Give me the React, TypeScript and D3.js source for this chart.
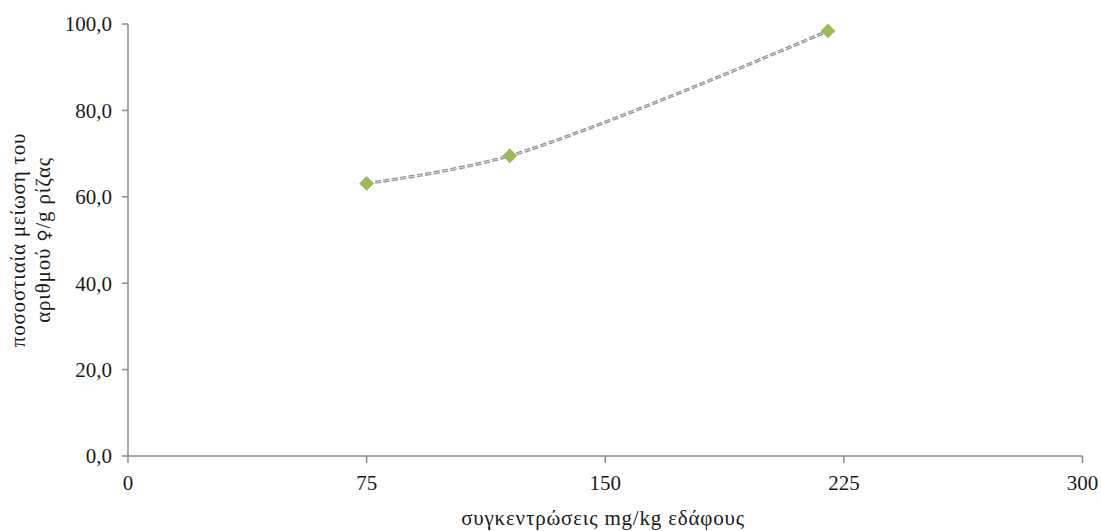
import React from "react";
import * as d3 from "d3";

const concentrations = [75, 120, 220];
const reductions = [63.1, 69.5, 98.4];
const xTicks = [0, 75, 150, 225, 300];
const yTicks = [0, 20, 40, 60, 80, 100];
const xTitle = "συγκεντρώσεις mg/kg εδάφους";
const yTitleLine1 = "ποσοστιαία μείωση του";
const yTitleLine2 = ["αριθμού ", "♀", "/g ρίζας"];

const W = 1101;
const H = 531;

export default function App() {
  const x = d3.scaleLinear().domain([0, 300]).range([128, 1082.5]);
  const y = d3.scaleLinear().domain([0, 100]).range([456, 24]);
  const pts = concentrations.map((c, i) => [x(c), y(reductions[i])] as [number, number]);
  const line = d3.line().curve(d3.curveCatmullRom.alpha(0.5));
  const fmt = (v: number) => v.toFixed(1).replace(".", ",");
  const axisColor = "#8c8c8c";
  const font = "'Liberation Serif', 'Times New Roman', serif";
  const diamond = d3.symbol().type(d3.symbolDiamond2).size(140);
  const fs = 21;
  const ls = 0.8;

  return (
    <svg width={W} height={H} style={{ position: "absolute", left: 0, top: 0, background: "#fff" }}>
      {/* y axis */}
      <line x1={x(0)} x2={x(0)} y1={y(0)} y2={y(100)} stroke={axisColor} strokeWidth={1.5} />
      {yTicks.map((t) => (
        <g key={"y" + t}>
          <line x1={x(0) - 6} x2={x(0)} y1={y(t)} y2={y(t)} stroke={axisColor} strokeWidth={1.5} />
          <text x={x(0) - 16} y={y(t)} dy="0.35em" textAnchor="end" fontFamily={font} fontSize={fs} fill="#1a1a1a">
            {fmt(t)}
          </text>
        </g>
      ))}
      {/* x axis */}
      <line x1={x(0)} x2={x(300)} y1={y(0)} y2={y(0)} stroke={axisColor} strokeWidth={1.5} />
      {xTicks.map((t) => (
        <g key={"x" + t}>
          <line x1={x(t)} x2={x(t)} y1={y(0)} y2={y(0) + 7} stroke={axisColor} strokeWidth={1.5} />
          <text x={x(t)} y={y(0) + 34} textAnchor="middle" fontFamily={font} fontSize={fs} fill="#1a1a1a">
            {t}
          </text>
        </g>
      ))}
      {/* titles */}
      <text x={603} y={525} textAnchor="middle" fontFamily={font} fontSize={fs} letterSpacing={ls} fill="#1a1a1a">
        {xTitle}
      </text>
      <text transform={`translate(25,240) rotate(-90)`} textAnchor="middle" fontFamily={font} fontSize={fs} letterSpacing={ls} fill="#1a1a1a">
        <tspan x={0} dy={0}>{yTitleLine1}</tspan>
        <tspan x={0} dy={25}>
          {yTitleLine2[0]}
          <tspan fontFamily="'DejaVu Sans', sans-serif" fontSize={17}>{yTitleLine2[1]}</tspan>
          {yTitleLine2[2]}
        </tspan>
      </text>
      {/* line */}
      <path d={line(pts) || ""} fill="none" stroke="#8f8f8f" strokeWidth={3.2} strokeDasharray="6,2.5" />
      <path d={line(pts) || ""} fill="none" stroke="#dcdcdc" strokeWidth={1} strokeDasharray="6,2.5" />
      {pts.map((p, i) => (
        <path key={i} d={diamond() || ""} transform={`translate(${p[0]},${p[1]})`} fill="#9bbb59" />
      ))}
    </svg>
  );
}
